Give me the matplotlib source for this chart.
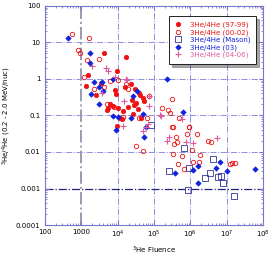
import matplotlib
matplotlib.use("Agg")
import matplotlib.pyplot as plt
from matplotlib.ticker import FixedLocator, LogLocator, NullFormatter

# 3He/4He (97-99), filled red circles
f_9799 = [4300, 17000, 9800, 1550, 1350, 3400, 2600, 8500, 9000, 16000, 23000,
          10500, 7600, 5200, 14000, 19500, 24500, 9800, 13000, 49000, 41000,
          54000, 6200, 5500, 11500, 30000, 40000, 32000, 36000, 28000, 26000,
          45000]
r_9799 = [5.0, 3.9, 1.7, 1.3, 0.65, 0.79, 0.36, 0.5, 0.39, 0.59, 0.72,
          0.16, 0.18, 0.14, 0.13, 0.17, 0.26, 0.051, 0.078, 0.30, 0.36,
          0.25, 0.2, 0.16, 0.083, 0.53, 0.4, 0.22, 0.15, 0.19, 0.11,
          0.085]

# 3He/4He (00-02), open red circles
f_0002 = [550, 1600, 800, 920, 1400, 3150, 1180, 2300, 6200, 10500, 17000,
          19500, 5000, 13800, 8000, 3.2e5, 1.66e5, 2.4e5, 2.75e5, 4.8e5,
          9.5e5, 3.2e5, 72000, 40000, 64000, 3.3e5, 32000, 49000, 4.1e5,
          4.4e5, 3.6e5, 3.3e5, 5.9e5, 4.7e5, 6.5e5, 9.3e5, 1.5e6, 8e5, 3.0e6,
          3.7e6, 1.1e6, 1.85e6, 1.15e6, 1.75e6, 1.26e7, 1.4e7, 1.65e7, 4200]
r_0002 = [17, 13, 6.2, 5.2, 3.3, 3.5, 1.12, 0.52, 0.89, 0.93, 0.72,
          0.52, 0.21, 0.093, 0.17, 0.28, 0.158, 0.14, 0.12, 0.083,
          0.049, 0.049, 0.34, 0.083, 0.083, 0.047, 0.0148, 0.0107, 0.026,
          0.019, 0.017, 0.0087, 0.008, 0.0046, 0.0034, 0.049, 0.031, 0.031, 0.02,
          0.0185, 0.0112, 0.0083, 0.0052, 0.0052, 0.0046, 0.0049, 0.0049, 0.6]

# 3He/4He (Mason), open blue squares
f_mason = [81000, 6.5e5, 2.6e5, 9.3e5, 4.1e6, 3.5e6, 2.5e6, 5.9e6, 7.2e6,
           8.1e6, 8.5e5, 1.55e7]
r_mason = [0.055, 0.013, 0.003, 0.0036, 0.0065, 0.0026, 0.0019, 0.0021,
           0.0022, 0.00145, 0.00091, 0.00063]

# 3He/4He (03), filled blue diamonds
f_03 = [430, 1700, 1700, 2240, 3700, 1860, 4000, 3100, 7400, 10000, 7400,
        2.35e5, 35000, 26000, 49000, 61000, 6.2e5, 23000, 54000, 3.8e5,
        6.6e6, 5.0e6, 1.6e6, 1.15e6, 1.6e6, 1.0e7, 6.2e7, 9300, 3000]
r_03 = [13, 5.2, 2.8, 0.83, 0.83, 0.39, 0.47, 0.21, 1.0, 0.091, 0.095,
        1.0, 0.47, 0.35, 0.107, 0.049, 0.126, 0.087, 0.025, 0.0026,
        0.0052, 0.0037, 0.0042, 0.0032, 0.0014, 0.003, 0.0035, 0.039, 0.6]

# 3He/4He (04-06), pink plus
f_0406 = [2000, 4800, 5500, 17000, 3800, 15000, 13800, 8400, 18000, 74000,
          1.6e5, 5.9e5, 74000, 1.5e5, 70000, 49000, 61000, 2.6e5, 2.3e5,
          7.6e5, 1.2e6, 5.4e6]
r_0406 = [2.2, 1.95, 1.6, 0.97, 0.42, 0.25, 0.051, 1.1, 0.93, 0.18,
          0.098, 0.079, 0.35, 0.1, 0.058, 0.037, 0.047, 0.026, 0.02,
          0.019, 0.018, 0.024]

xticks = [1e2, 1e3, 1e4, 1e5, 1e6, 1e7, 1e8]
xlabels = ["100", "1000", "$10^4$", "$10^5$", "$10^6$", "$10^7$", "$10^8$"]
yticks = [1e-4, 1e-3, 1e-2, 1e-1, 1, 10, 100]
ylabels = ["0.0001", "0.001", "0.01", "0.1", "1", "10", "100"]

red = "#ee1111"
blue = "#1122dd"
navy = "#333399"
pink = "#e05aa0"
frame = "#7777cc"

plt.rcParams["font.family"] = "DejaVu Sans"
fig = plt.figure(figsize=(2.72, 2.56), dpi=100)
ax = fig.add_axes([0.165, 0.121, 0.802, 0.856])

ax.set_xscale("log")
ax.set_yscale("log")
ax.set_xlim(1e2, 1e8)
ax.set_ylim(1e-4, 1e2)

# grid
for xv in xticks[1:-1]:
    if xv == 1e3:
        ax.axvline(xv, color="#9a9ab0", lw=1.4, ls="-.", zorder=0)
    else:
        ax.axvline(xv, color="#8f8fdd", lw=0.7, ls="-.", zorder=0)
for yv in yticks[1:-1]:
    if yv == 1e-3:
        ax.axhline(yv, color="#22227a", lw=0.9, ls="-.", zorder=0)
    else:
        ax.axhline(yv, color="#8f8fdd", lw=0.7, ls="-.", zorder=0)

ax.plot(f_9799, r_9799, "o", ms=3.2, color=red, mec=red, mew=0.5,
        label="3He/4He (97-99)")
ax.plot(f_0002, r_0002, "o", ms=3.2, mfc="none", mec=red, mew=0.6,
        label="3He/4He (00-02)")
ax.plot(f_mason, r_mason, "s", ms=3.8, mfc="none", mec=navy, mew=0.6,
        label="3He/4He (Mason)")
ax.plot(f_03, r_03, "D", ms=2.8, color=blue, mec=blue, mew=0.4,
        label="3He/4He (03)")
ax.plot(f_0406, r_0406, "+", ms=5, color=pink, mew=0.8,
        label="3He/4He (04-06)")

ax.xaxis.set_major_locator(FixedLocator(xticks))
ax.set_xticklabels(xlabels)
ax.yaxis.set_major_locator(FixedLocator(yticks))
ax.set_yticklabels(ylabels)
ax.xaxis.set_minor_locator(LogLocator(base=10, subs=range(2, 10), numticks=20))
ax.yaxis.set_minor_locator(LogLocator(base=10, subs=range(2, 10), numticks=20))
ax.xaxis.set_minor_formatter(NullFormatter())
ax.yaxis.set_minor_formatter(NullFormatter())
ax.tick_params(which="both", direction="in", top=True, right=True,
               color=frame, labelsize=5, pad=3)
ax.tick_params(which="major", length=3)
ax.tick_params(which="minor", length=1.5)
for s in ax.spines.values():
    s.set_color(frame)
    s.set_linewidth(0.8)

ax.set_xlabel("$^3$He Fluence", fontsize=5, labelpad=3)
ax.set_ylabel("$^3$He/$^4$He (0.2 - 2.0 MeV/nuc)", fontsize=5, labelpad=2)

leg = ax.legend(loc="upper right", bbox_to_anchor=(0.975, 0.96), fontsize=5,
                frameon=True, fancybox=False, shadow=True, borderpad=0.8,
                handletextpad=1.2, labelspacing=0.15, handlelength=1.0,
                borderaxespad=0.2)
leg.get_frame().set_edgecolor("black")
leg.get_frame().set_linewidth(0.6)
for t, c in zip(leg.get_texts(), [red, red, blue, blue, pink]):
    t.set_color(c)

fig.savefig("out.png", dpi=100)
